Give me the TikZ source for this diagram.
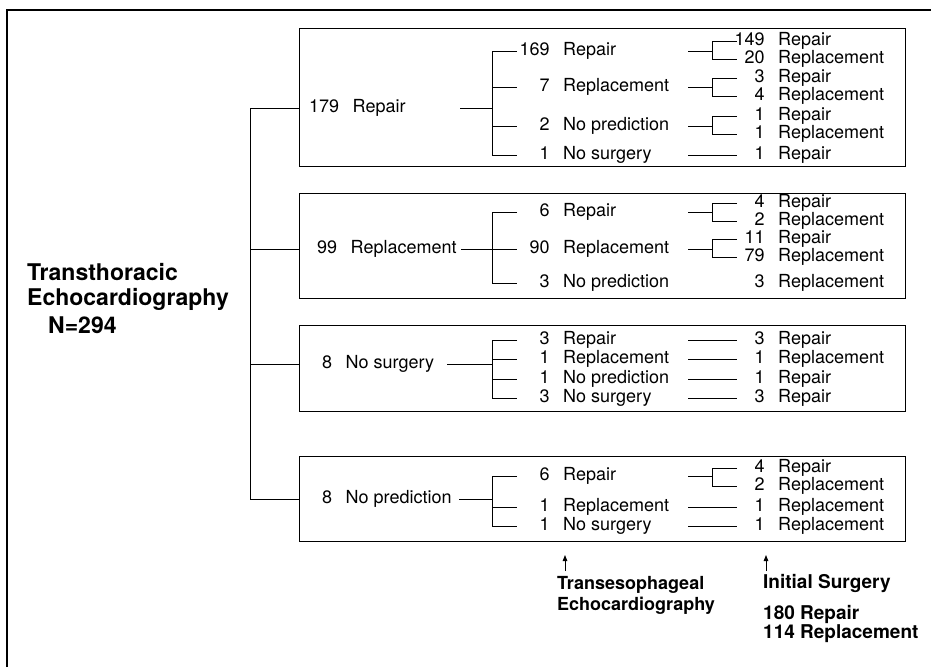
\documentclass[tikz,border=0pt]{standalone}
\usepackage{fontspec}
\setmainfont{TeX Gyre Heros}
\usetikzlibrary{arrows.meta}

% count + outcome, numbers right-aligned in a 3-digit slot
\newcommand{\cnt}[2]{\makebox[1.668em][r]{#1}\hspace{.75em}#2}
\newcommand{\cntl}[2]{#1\hspace{.75em}#2}

\begin{document}
\begin{tikzpicture}[x=1pt,y=-1pt,
  lbl/.style={anchor=west,inner sep=0pt,font=\fontsize{18}{20}\selectfont},
  ttl/.style={anchor=west,inner sep=0pt,font=\fontsize{23}{27}\selectfont\bfseries},
  captxt/.style={anchor=west,inner sep=0pt,font=\fontsize{18}{21}\selectfont\bfseries},
  surgtxt/.style={anchor=west,inner sep=0pt,font=\fontsize{19}{22}\selectfont\bfseries},
  wire/.style={line width=0.9pt},
  panel/.style={draw,line width=1.2pt,inner sep=0pt,anchor=north west,minimum width=606pt},
  tip/.style={line width=0.9pt,-{Triangle[length=6pt,width=4.5pt]}}]

  \useasboundingbox (0,0) rectangle (931,667);

  % outer frame (only top and left edges show)
  \draw[line width=1.8pt] (7,667) -- (7,10) -- (931,10);

  % ==========================================
  % panels
  % ==========================================
  \node[panel,minimum height=138pt] (p1) at (299,28) {};
  \node[panel,minimum height=105pt] (p2) at (299,193) {};
  \node[panel,minimum height=86pt]  (p3) at (299,325) {};
  \node[panel,minimum height=85pt]  (p4) at (299,456) {};

  % columns of the brackets
  \coordinate (tk) at (250,0);
  \coordinate (k0) at (492,0);
  \coordinate (k1) at (517,0);
  \coordinate (j1) at (688,0);
  \coordinate (j2) at (712,0);
  \coordinate (j3) at (737,0);

  % ==========================================
  % title
  % ==========================================
  \node[ttl] (t1) at (27,272) {Transthoracic};
  \node[ttl] (t2) at (27,299) {Echocardiography};
  \node[ttl] (t3) at (48,325) {N=294};

  % ==========================================
  % panel 1: 179 Repair
  % ==========================================
  \node[lbl] (r1)  at (309,108) {\cntl{179}{Repair}};
  \node[lbl] (n11) at (519.5,51)  {\cnt{169}{Repair}};
  \node[lbl] (n12) at (519.5,87)  {\cnt{7}{Replacement}};
  \node[lbl] (n13) at (519.5,126) {\cnt{2}{No prediction}};
  \node[lbl] (n14) at (519.5,155) {\cnt{1}{No surgery}};
  \node[lbl] (m111) at (734.5,41)  {\cnt{149}{Repair}};
  \node[lbl] (m112) at (734.5,59)  {\cnt{20}{Replacement}};
  \node[lbl] (m121) at (734.5,78)  {\cnt{3}{Repair}};
  \node[lbl] (m122) at (734.5,96)  {\cnt{4}{Replacement}};
  \node[lbl] (m131) at (734.5,116) {\cnt{1}{Repair}};
  \node[lbl] (m132) at (734.5,134) {\cnt{1}{Replacement}};
  \node[lbl] (m141) at (734.5,155) {\cnt{1}{Repair}};
  \coordinate (a1) at (460,108);

  % ==========================================
  % panel 2: 99 Replacement
  % ==========================================
  \node[lbl] (r2)  at (317,249) {\cntl{99}{Replacement}};
  \node[lbl] (n21) at (519.5,212) {\cnt{6}{Repair}};
  \node[lbl] (n22) at (519.5,249) {\cnt{90}{Replacement}};
  \node[lbl] (n23) at (519.5,283) {\cnt{3}{No prediction}};
  \node[lbl] (m211) at (734.5,203) {\cnt{4}{Repair}};
  \node[lbl] (m212) at (734.5,221) {\cnt{2}{Replacement}};
  \node[lbl] (m221) at (734.5,239) {\cnt{11}{Repair}};
  \node[lbl] (m222) at (734.5,257) {\cnt{79}{Replacement}};
  \node[lbl] (m231) at (734.5,283) {\cnt{3}{Replacement}};
  \coordinate (a2) at (461,249);

  % ==========================================
  % panel 3: 8 No surgery
  % ==========================================
  \node[lbl] (r3)  at (322,364) {\cntl{8}{No surgery}};
  \node[lbl] (n31) at (519.5,340) {\cnt{3}{Repair}};
  \node[lbl] (n32) at (519.5,359) {\cnt{1}{Replacement}};
  \node[lbl] (n33) at (519.5,379) {\cnt{1}{No prediction}};
  \node[lbl] (n34) at (519.5,398) {\cnt{3}{No surgery}};
  \node[lbl] (m31) at (734.5,340) {\cnt{3}{Repair}};
  \node[lbl] (m32) at (734.5,359) {\cnt{1}{Replacement}};
  \node[lbl] (m33) at (734.5,379) {\cnt{1}{Repair}};
  \node[lbl] (m34) at (734.5,398) {\cnt{3}{Repair}};
  \coordinate (a3) at (447,364);

  % ==========================================
  % panel 4: 8 No prediction
  % ==========================================
  \node[lbl] (r4)  at (322,499) {\cntl{8}{No prediction}};
  \node[lbl] (n41) at (519.5,476) {\cnt{6}{Repair}};
  \node[lbl] (n42) at (519.5,507) {\cnt{1}{Replacement}};
  \node[lbl] (n43) at (519.5,526) {\cnt{1}{No surgery}};
  \node[lbl] (m411) at (734.5,468) {\cnt{4}{Repair}};
  \node[lbl] (m412) at (734.5,486) {\cnt{2}{Replacement}};
  \node[lbl] (m42)  at (734.5,507) {\cnt{1}{Replacement}};
  \node[lbl] (m43)  at (734.5,526) {\cnt{1}{Replacement}};
  \coordinate (a4) at (459,499);

  % ==========================================
  % connectors
  % ==========================================
  % trunk to the panels
  \draw[wire] (tk |- r1.west) -- (tk |- r4.west);
  \foreach \r/\p in {r1/p1,r2/p2,r3/p3,r4/p4}
    \draw[wire] (tk |- \r.west) -- (\p.west |- \r.west);

  % first split
  \foreach \a/\u/\v in {a1/n11/n14,a2/n21/n23,a3/n31/n34,a4/n41/n43} {
    \draw[wire] (\a) -- (k0 |- \a);
    \draw[wire] (k1 |- \u.west) -- (k0 |- \u.west) -- (k0 |- \v.west) -- (k1 |- \v.west);
  }
  \foreach \n in {n12,n13,n22,n32,n33,n42}
    \draw[wire] (k0 |- \n.west) -- (k1 |- \n.west);

  % second split
  \foreach \n/\u/\v in {n11/m111/m112,n12/m121/m122,n13/m131/m132,
                        n21/m211/m212,n22/m221/m222,n41/m411/m412} {
    \draw[wire] (j1 |- \n.west) -- (j2 |- \n.west);
    \draw[wire] (j3 |- \u.west) -- (j2 |- \u.west) -- (j2 |- \v.west) -- (j3 |- \v.west);
  }
  \foreach \n in {n14,n31,n32,n33,n34,n42,n43}
    \draw[wire] (j1 |- \n.west) -- (j3 |- \n.west);

  % ==========================================
  % captions below
  % ==========================================
  \coordinate (ar1) at (565,571);
  \coordinate (ah1) at (565,555);
  \coordinate (ar2) at (766,571);
  \coordinate (ah2) at (766,555);
  \draw[tip] (ar1) -- (ah1);
  \draw[tip] (ar2) -- (ah2);
  \node[captxt] (c1) at (557,585) {Transesophageal};
  \node[captxt] (c2) at (557,606) {Echocardiography};
  \node[surgtxt] (c3) at (763,583) {Initial Surgery};
  \node[surgtxt] (c4) at (763,614) {180 Repair};
  \node[surgtxt] (c5) at (763,634) {114 Replacement};
\end{tikzpicture}
\end{document}
